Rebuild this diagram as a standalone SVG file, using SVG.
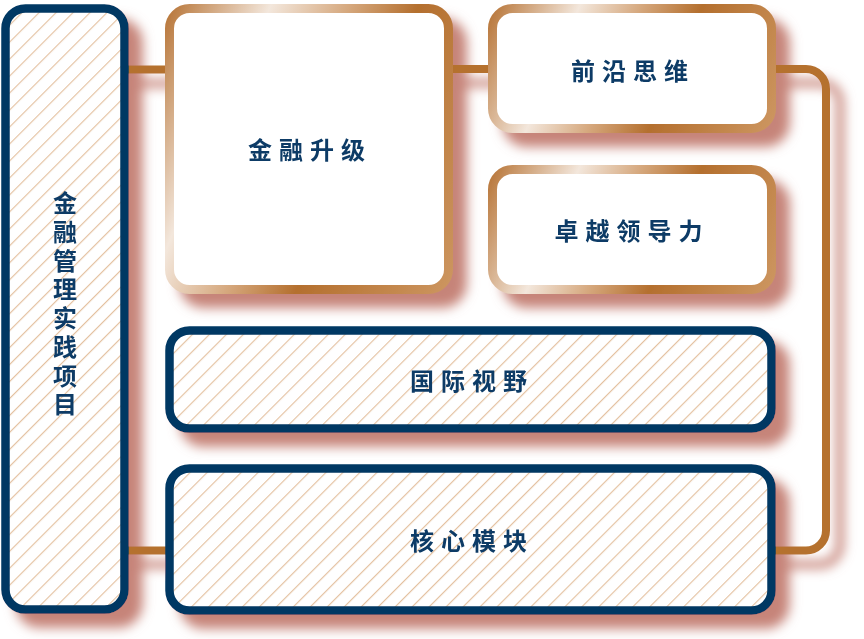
<svg xmlns="http://www.w3.org/2000/svg" width="864" height="639" viewBox="0 0 864 639">
<defs>
<style>
.lbl{font-family:"Noto Sans CJK SC","Noto Sans",sans-serif;font-weight:700;font-size:24px;fill:#0C3B66;letter-spacing:7px;text-anchor:middle;dominant-baseline:central}
.vlbl{font-family:"Noto Sans CJK SC","Noto Sans",sans-serif;font-weight:700;font-size:24px;fill:#0C3B66;letter-spacing:4.7px;text-anchor:middle;writing-mode:vertical-rl}
.navy{fill:url(#hatch);stroke:#043963;stroke-width:8.5}
.cu{fill:#FFFFFF;stroke-width:9}
.con{fill:none;stroke:#B5712F;stroke-width:8}
</style>
<pattern id="hatch" patternUnits="userSpaceOnUse" width="12" height="12" patternTransform="rotate(45)">
<rect width="12" height="12" fill="#FFFFFF"/>
<line x1="0.6" y1="0" x2="0.6" y2="12" stroke="#E3BE9B" stroke-width="1.1"/>
</pattern>
<linearGradient id="g1" gradientUnits="userSpaceOnUse" x1="169.5" y1="8.5" x2="507.1" y2="153.6">
<stop offset="0" stop-color="#B9783C"/>
<stop offset="0.25" stop-color="#F3E7DC"/>
<stop offset="0.45" stop-color="#D5A77C"/>
<stop offset="0.62" stop-color="#B46F2E"/>
<stop offset="1" stop-color="#CC955F"/>
</linearGradient>
<linearGradient id="g2" gradientUnits="userSpaceOnUse" x1="492.5" y1="8.5" x2="771.7" y2="128.5">
<stop offset="0" stop-color="#B9783C"/>
<stop offset="0.26" stop-color="#F3E7DC"/>
<stop offset="0.45" stop-color="#D5A77C"/>
<stop offset="0.63" stop-color="#B46F2E"/>
<stop offset="1" stop-color="#CC955F"/>
</linearGradient>
<linearGradient id="g3" gradientUnits="userSpaceOnUse" x1="492.5" y1="169.5" x2="771.7" y2="289.5">
<stop offset="0" stop-color="#B9783C"/>
<stop offset="0.26" stop-color="#F3E7DC"/>
<stop offset="0.45" stop-color="#D5A77C"/>
<stop offset="0.63" stop-color="#B46F2E"/>
<stop offset="1" stop-color="#CC955F"/>
</linearGradient>
<filter id="sh" x="-5%" y="-5%" width="115%" height="115%">
<feGaussianBlur in="SourceAlpha" stdDeviation="6" result="b"/>
<feOffset in="b" dx="14" dy="14" result="o"/>
<feFlood flood-color="#C68479" flood-opacity="1"/>
<feComposite in2="o" operator="in" result="s"/>
<feMerge><feMergeNode in="s"/><feMergeNode in="SourceGraphic"/></feMerge>
</filter>
</defs>
<rect width="864" height="639" fill="#FFFFFF"/>
<g filter="url(#sh)">
<g id="connectors">
<path class="con" d="M125 69.5 H172"/>
<path class="con" d="M125 550.5 H172"/>
<path class="con" d="M446 69 H495"/>
<path class="con" d="M768 69 H806 A20 20 0 0 1 826 89 V530.5 A20 20 0 0 1 806 550.5 H768"/>
</g>
<g id="node-practice">
<rect class="navy" x="5.5" y="8.5" width="119" height="601" rx="20"/>
<text class="vlbl" x="65" y="306">金融管理实践项目</text>
</g>
<g id="node-upgrade">
<rect class="cu" stroke="url(#g1)" x="169.5" y="8.5" width="279" height="281" rx="20"/>
<text class="lbl" x="310" y="148">金融升级</text>
</g>
<g id="node-frontier">
<rect class="cu" stroke="url(#g2)" x="492.5" y="8.5" width="279" height="120" rx="20"/>
<text class="lbl" x="633" y="69">前沿思维</text>
</g>
<g id="node-leadership">
<rect class="cu" stroke="url(#g3)" x="492.5" y="169.5" width="279" height="120" rx="20"/>
<text class="lbl" x="632" y="229">卓越领导力</text>
</g>
<g id="node-global">
<rect class="navy" x="169.5" y="330.5" width="602" height="98" rx="20"/>
<text class="lbl" x="472" y="379">国际视野</text>
</g>
<g id="node-core">
<rect class="navy" x="169.5" y="468.5" width="602" height="142" rx="20"/>
<text class="lbl" x="472" y="539">核心模块</text>
</g>
</g>
</svg>
